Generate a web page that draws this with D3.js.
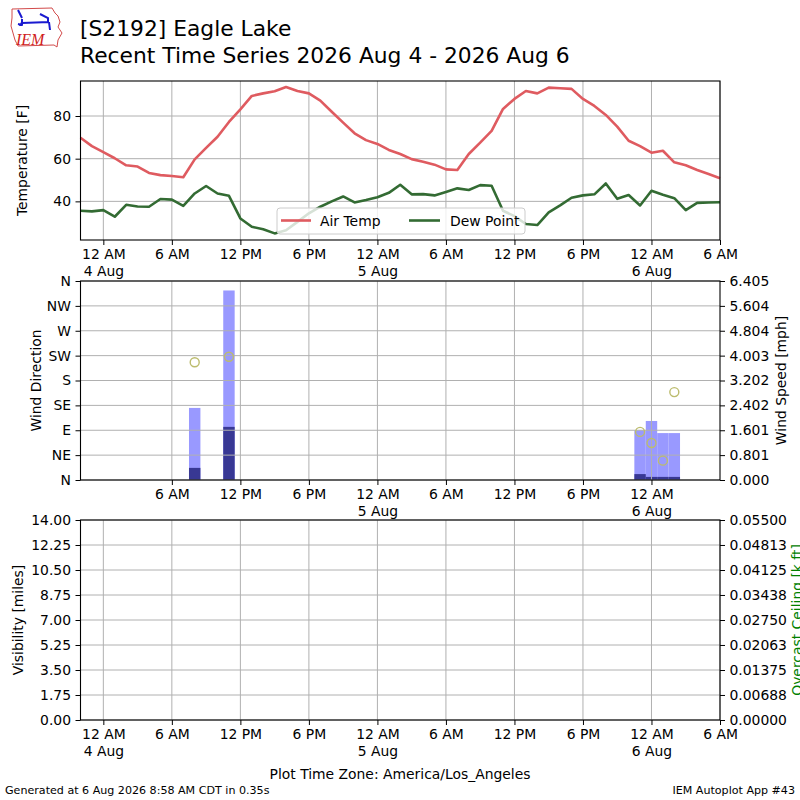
<!DOCTYPE html>
<html><head><meta charset="utf-8">
<script src="https://cdn.jsdelivr.net/npm/d3@7"></script>
<style>body{margin:0;background:#fff} svg{display:block;font-family:"DejaVu Sans",sans-serif}</style>
</head><body><svg id="c" width="800" height="800"></svg>
<script>
// ---------------- data ----------------
const obsTimes = [
 "2026-08-03 22:00","2026-08-03 23:00",
 "2026-08-04 00:00","2026-08-04 01:00","2026-08-04 02:00","2026-08-04 03:00","2026-08-04 04:00","2026-08-04 05:00",
 "2026-08-04 06:00","2026-08-04 07:00","2026-08-04 08:00","2026-08-04 09:00","2026-08-04 10:00","2026-08-04 11:00",
 "2026-08-04 12:00","2026-08-04 13:00","2026-08-04 14:00","2026-08-04 15:00","2026-08-04 16:00","2026-08-04 17:00",
 "2026-08-04 18:00","2026-08-04 19:00","2026-08-04 20:00","2026-08-04 21:00","2026-08-04 22:00","2026-08-04 23:00",
 "2026-08-05 00:00","2026-08-05 01:00","2026-08-05 02:00","2026-08-05 03:00","2026-08-05 04:00","2026-08-05 05:00",
 "2026-08-05 06:00","2026-08-05 07:00","2026-08-05 08:00","2026-08-05 09:00","2026-08-05 10:00","2026-08-05 11:00",
 "2026-08-05 12:00","2026-08-05 13:00","2026-08-05 14:00","2026-08-05 15:00","2026-08-05 16:00","2026-08-05 17:00",
 "2026-08-05 18:00","2026-08-05 19:00","2026-08-05 20:00","2026-08-05 21:00","2026-08-05 22:00","2026-08-05 23:00",
 "2026-08-06 00:00","2026-08-06 01:00","2026-08-06 02:00","2026-08-06 03:00","2026-08-06 04:00","2026-08-06 05:00",
 "2026-08-06 06:00"];
const airTemp = [69.8,65.9,
 63.1,60.2,56.9,56.3,53.3,52.3,
 51.9,51.3,59.7,65.1,70.3,77.2,
 83.1,89.4,90.6,91.6,93.6,91.7,
 90.6,87.2,82.0,76.9,71.9,68.7,
 66.9,64.1,62.2,59.8,58.6,57.2,
 55.0,54.7,62.2,67.5,73.0,83.3,
 88.0,91.7,90.6,93.3,93.0,92.7,
 88.0,84.7,80.5,75.0,68.4,65.9,
 62.8,63.7,58.3,56.9,54.7,52.8,
 50.8];
const dewPoint = [35.6,35.3,
 35.9,32.8,38.4,37.6,37.5,41.1,
 40.8,37.9,43.7,47.2,43.7,42.6,
 32.0,28.1,26.9,25.0,26.5,30.4,
 34.4,37.5,40.0,42.3,39.5,40.6,
 41.9,44.0,47.8,43.3,43.4,42.8,
 44.4,46.1,45.3,47.6,47.3,35.6,
 33.1,29.4,28.9,34.8,38.1,41.7,
 42.8,43.3,48.4,41.2,43.0,38.1,
 45.0,43.1,41.5,35.9,39.3,39.5,
 39.6];
const windTimes = ["2026-08-04 08:00","2026-08-04 11:00","2026-08-05 23:00","2026-08-06 00:00","2026-08-06 01:00","2026-08-06 02:00"];
const windGust  = [2.32, 6.10, 1.60, 1.90, 1.51, 1.51];
const windSpeed = [0.39, 1.71, 0.19, 0.10, 0.10, 0.10];
const windDir   = [213, 223, 87, 67, 35, 159];

const timeDomain = ["2026-08-03 22:00","2026-08-06 06:00"];
const tickTimesAll = ["2026-08-04 00:00","2026-08-04 06:00","2026-08-04 12:00","2026-08-04 18:00","2026-08-05 00:00",
  "2026-08-05 06:00","2026-08-05 12:00","2026-08-05 18:00","2026-08-06 00:00","2026-08-06 06:00"];
const tickLabelsAll = ["12 AM\n4 Aug","6 AM","12 PM","6 PM","12 AM\n5 Aug","6 AM","12 PM","6 PM","12 AM\n6 Aug","6 AM"];
const tickTimesWind = tickTimesAll.slice(1, 9);
const tickLabelsWind = tickLabelsAll.slice(1, 9);

const tempDomain = [21.9, 96.4];
const tempTicks = [40, 60, 80];
const dirTicks = [0,45,90,135,180,225,270,315,360];
const dirLabels = ["N","NE","E","SE","S","SW","W","NW","N"];
const speedMax = 6.405;
const speedTicks = [0,0.801,1.601,2.402,3.202,4.003,4.804,5.604,6.405];
const visTicks = [0,1.75,3.5,5.25,7,8.75,10.5,12.25,14];
const ceilTicks = [0,0.00688,0.01375,0.02063,0.0275,0.03438,0.04125,0.04813,0.055];

// ---------------- layout ----------------
const parse = d3.timeParse("%Y-%m-%d %H:%M");
const L = 80.5, R = 720;
const P1 = {t:81, b:240}, P2 = {t:281, b:480}, P3 = {t:520, b:720};
const FS = 13.9;
const GRID = "#b0b0b0";

const svg = d3.select("#c");
svg.append("rect").attr("width",800).attr("height",800).attr("fill","#fff");

const x = d3.scaleTime().domain(timeDomain.map(parse)).range([L, R]);

function xAxis(g, bottom, ticks, labels){
  const tv = ticks.map(parse);
  const ax = d3.axisBottom(x).tickValues(tv).tickSize(5).tickPadding(4.5)
    .tickFormat((d,i)=>labels[i]);
  const a = g.append("g").attr("transform",`translate(0,${bottom})`).call(ax);
  a.select(".domain").remove();
  a.selectAll("line").attr("stroke","#000").attr("stroke-width",1);
  a.selectAll("text").attr("font-size",FS).attr("fill","#000").attr("font-family","DejaVu Sans")
   .each(function(d,i){
     const t = d3.select(this); const parts = labels[i].split("\n");
     t.text(null);
     parts.forEach((p,k)=>t.append("tspan").attr("x",0).attr("dy", k===0 ? "0.71em" : "1.17em").text(p));
   });
  // vertical grid
  return tv;
}
function vgrid(g, top, bottom, ticks){
  g.append("g").selectAll("line").data(ticks.map(parse)).join("line")
   .attr("x1",d=>x(d)).attr("x2",d=>x(d)).attr("y1",top).attr("y2",bottom)
   .attr("stroke",GRID).attr("stroke-width",1);
}
function hgrid(g, y, ticks){
  g.append("g").selectAll("line").data(ticks).join("line")
   .attr("x1",L).attr("x2",R).attr("y1",d=>y(d)).attr("y2",d=>y(d))
   .attr("stroke",GRID).attr("stroke-width",1);
}
function leftAxis(g, y, ticks, fmt){
  const a = g.append("g").attr("transform",`translate(${L},0)`)
    .call(d3.axisLeft(y).tickValues(ticks).tickSize(5).tickPadding(4.5).tickFormat(fmt));
  a.select(".domain").remove();
  a.selectAll("line").attr("stroke","#000");
  a.selectAll("text").attr("font-size",FS).attr("fill","#000").attr("font-family","DejaVu Sans");
}
function rightAxis(g, y, ticks, fmt){
  const a = g.append("g").attr("transform",`translate(${R},0)`)
    .call(d3.axisRight(y).tickValues(ticks).tickSize(5).tickPadding(4.5).tickFormat(fmt));
  a.select(".domain").remove();
  a.selectAll("line").attr("stroke","#000");
  a.selectAll("text").attr("font-size",FS).attr("fill","#000").attr("font-family","DejaVu Sans");
}
function frame(g, p){
  g.append("rect").attr("x",L).attr("y",p.t).attr("width",R-L).attr("height",p.b-p.t)
   .attr("fill","none").attr("stroke","#000").attr("stroke-width",1.1);
}
function ylabel(txt, cx, cy, color){
  svg.append("text").attr("transform",`translate(${cx},${cy}) rotate(-90)`)
    .attr("text-anchor","middle").attr("dominant-baseline","central")
    .attr("font-size",FS).attr("fill",color||"#000").text(txt);
}

// ---------------- panel 1: temperature ----------------
const g1 = svg.append("g");
const y1 = d3.scaleLinear().domain(tempDomain).range([P1.b, P1.t]);
vgrid(g1, P1.t, P1.b, tickTimesAll);
hgrid(g1, y1, tempTicks);
const tdata = obsTimes.map((t,i)=>({t:parse(t), a:airTemp[i], d:dewPoint[i]}));
g1.append("path").datum(tdata).attr("fill","none").attr("stroke","#df5b60").attr("stroke-width",2.6)
  .attr("stroke-linejoin","round").attr("d", d3.line().x(d=>x(d.t)).y(d=>y1(d.a)));
g1.append("path").datum(tdata).attr("fill","none").attr("stroke","#336b33").attr("stroke-width",2.6)
  .attr("stroke-linejoin","round").attr("d", d3.line().x(d=>x(d.t)).y(d=>y1(d.d)));
frame(g1, P1);
leftAxis(g1, y1, tempTicks, d3.format("d"));
xAxis(g1, P1.b, tickTimesAll, tickLabelsAll);
ylabel("Temperature [F]", 22, (P1.t+P1.b)/2);
// legend
const lg = g1.append("g");
lg.append("rect").attr("x",277).attr("y",208).attr("width",248).attr("height",26).attr("rx",3)
  .attr("fill","#fff").attr("fill-opacity",0.8).attr("stroke","#cccccc").attr("stroke-width",1);
lg.append("line").attr("x1",281).attr("x2",311).attr("y1",220.5).attr("y2",220.5).attr("stroke","#df5b60").attr("stroke-width",2.6);
lg.append("text").attr("x",320).attr("y",226).attr("font-size",FS).text("Air Temp");
lg.append("line").attr("x1",409).attr("x2",440).attr("y1",220.5).attr("y2",220.5).attr("stroke","#336b33").attr("stroke-width",2.6);
lg.append("text").attr("x",450).attr("y",226).attr("font-size",FS).text("Dew Point");

// ---------------- panel 2: wind ----------------
const g2 = svg.append("g");
const yDir = d3.scaleLinear().domain([0,360]).range([P2.b, P2.t]);
const ySpd = d3.scaleLinear().domain([0,speedMax]).range([P2.b, P2.t]);
const wdata = windTimes.map((t,i)=>({t:parse(t), g:windGust[i], s:windSpeed[i], dir:windDir[i]}));
const half = 30*60*1000;
g2.append("g").selectAll("rect").data(wdata).join("rect")
  .attr("x",d=>x(new Date(d.t-half))).attr("width",d=>x(new Date(+d.t+half))-x(new Date(d.t-half)))
  .attr("y",d=>ySpd(d.g)).attr("height",d=>P2.b-ySpd(d.g)).attr("fill","#9999ff");
g2.append("g").selectAll("rect").data(wdata).join("rect")
  .attr("x",d=>x(new Date(d.t-half))).attr("width",d=>x(new Date(+d.t+half))-x(new Date(d.t-half)))
  .attr("y",d=>ySpd(d.s)).attr("height",d=>P2.b-ySpd(d.s)).attr("fill","#383894");
vgrid(g2, P2.t, P2.b, tickTimesWind);
hgrid(g2, yDir, dirTicks);
g2.append("g").selectAll("circle").data(wdata).join("circle")
  .attr("cx",d=>x(d.t)).attr("cy",d=>yDir(d.dir)).attr("r",4.5)
  .attr("fill","none").attr("stroke","#bcbc6e").attr("stroke-width",1.4);
frame(g2, P2);
leftAxis(g2, yDir, dirTicks, (d,i)=>dirLabels[i]);
rightAxis(g2, ySpd, speedTicks, d3.format(".3f"));
xAxis(g2, P2.b, tickTimesWind, tickLabelsWind);
ylabel("Wind Direction", 36, (P2.t+P2.b)/2);
ylabel("Wind Speed [mph]", 781, (P2.t+P2.b)/2);

// ---------------- panel 3: visibility / ceiling ----------------
const g3 = svg.append("g");
const yVis = d3.scaleLinear().domain([0,14]).range([P3.b, P3.t]);
const yCeil = d3.scaleLinear().domain([0,0.055]).range([P3.b, P3.t]);
vgrid(g3, P3.t, P3.b, tickTimesAll);
hgrid(g3, yVis, visTicks);
frame(g3, P3);
leftAxis(g3, yVis, visTicks, d3.format(".2f"));
rightAxis(g3, yCeil, ceilTicks, d3.format(".5f"));
xAxis(g3, P3.b, tickTimesAll, tickLabelsAll);
ylabel("Visibility [miles]", 18, (P3.t+P3.b)/2);
ylabel("Overcast Ceiling [k ft]", 797, (P3.t+P3.b)/2, "#008000");

// ---------------- titles & footer ----------------
svg.append("text").attr("x",80).attr("y",36).attr("font-size",21.8).text("[S2192] Eagle Lake");
svg.append("text").attr("x",80).attr("y",63).attr("font-size",21.8).text("Recent Time Series 2026 Aug 4 - 2026 Aug 6");
svg.append("text").attr("x",400).attr("y",779).attr("text-anchor","middle").attr("font-size",FS).text("Plot Time Zone: America/Los_Angeles");
svg.append("text").attr("x",5).attr("y",794).attr("font-size",11.1).text("Generated at 6 Aug 2026 8:58 AM CDT in 0.35s");
svg.append("text").attr("x",795).attr("y",794).attr("text-anchor","end").attr("font-size",11.1).text("IEM Autoplot App #43");

// logo
const lo = svg.append("g");
lo.append("path").attr("d","M12,9 L52,8 L55,13 L58,16 L60,22 L58,27 L62,33 L58,40 L57,47 L54,45 L18,46 L15,40 L13,33 L11,26 L12,18 Z")
  .attr("fill","none").attr("stroke","#d24a4a").attr("stroke-width",1);
lo.append("text").attr("x",16).attr("y",45).attr("font-family","Liberation Serif, serif").attr("font-style","italic")
  .attr("font-size",16).attr("fill","#d02020").text("IEM");
lo.append("path").attr("d","M18,10 L22,18 M22,19 L22,25 M22,23 L49,22 M40,14 L48,18 L48,22 M49,22 L50,30 M18,24 L22,25")
  .attr("fill","none").attr("stroke","#1a1ad0").attr("stroke-width",2);
lo.append("path").attr("d","M19,26 L21,22 L23,26 Z").attr("fill","#1a1ad0");
</script></body></html>
